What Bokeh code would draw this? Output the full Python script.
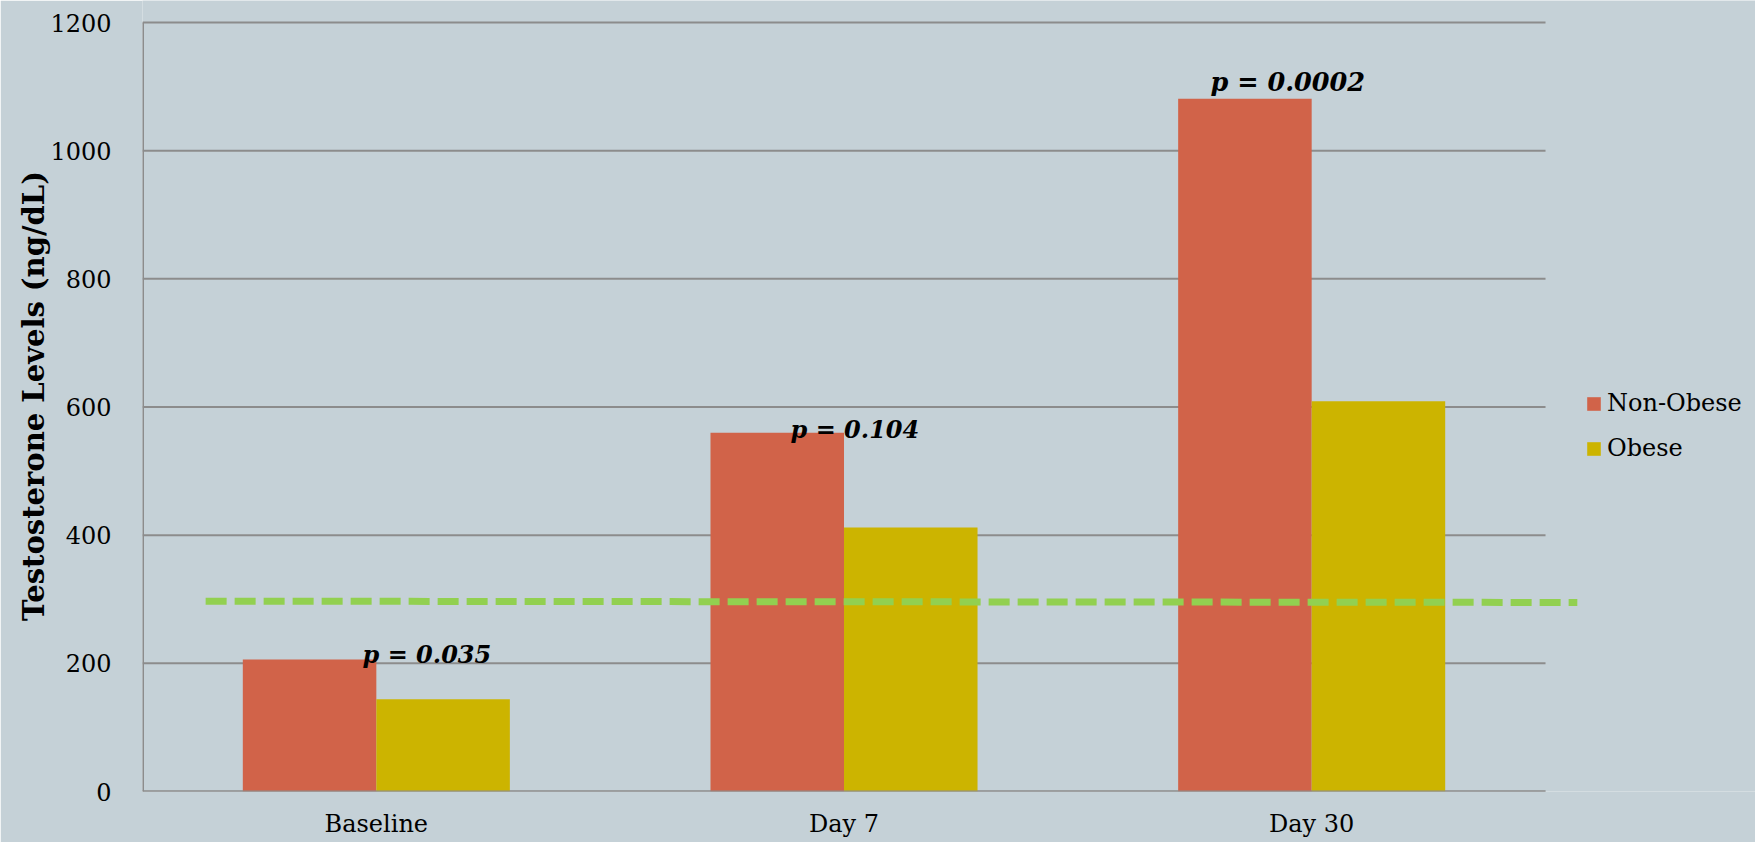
from bokeh.plotting import figure
from bokeh.models import Range1d, FixedTicker, Legend, LegendItem, ColumnDataSource
from bokeh.core.properties import value
from bokeh.embed import file_html
from bokeh.resources import INLINE

# ---- data ----
categories = ["Baseline", "Day 7", "Day 30"]
non_obese = [206, 560, 1081]
obese = [144, 412, 609]
p_labels = ["p = 0.035", "p = 0.104", "p = 0.0002"]
y_ticks = [0, 200, 400, 600, 800, 1000, 1200]
threshold_x = [0.135, 3.068]
threshold_y = [297, 295]

# ---- layout / style (not data) ----
BG = "#C5D1D7"
RED = "#D16349"
YEL = "#CCB400"
GRID = "#8C8C8C"
FONT = "DejaVu Serif"
bar_w = 0.2855
label_dx = [-0.0296, -0.1144, -0.2163]
label_y = [214, 565, 1107]
label_size = ["24px", "24px", "25.5px"]

n = len(categories)
centers = [i + 0.5 for i in range(n)]

# frame spans the full top of the figure; 1200 sits 22px below it
p = figure(width=1755, height=842, output_backend="svg", toolbar_location=None,
           x_range=Range1d(0, 3.449), y_range=Range1d(0, 1234.35),
           min_border_left=142, min_border_right=0, min_border_top=0, min_border_bottom=51)
p.background_fill_color = BG
p.border_fill_color = BG
p.outline_line_color = None
p.xgrid.visible = False
p.ygrid.visible = False

# gridlines limited to category span
gsrc = ColumnDataSource(dict(x0=[0] * len(y_ticks), x1=[n] * len(y_ticks), y=y_ticks))
p.segment(x0="x0", x1="x1", y0="y", y1="y", source=gsrc, line_color=GRID, line_width=2)

src = ColumnDataSource(dict(
    x_no=[c - bar_w / 2 for c in centers],
    x_ob=[c + bar_w / 2 for c in centers],
    no=non_obese, ob=obese))
r1 = p.vbar(x="x_no", top="no", width=bar_w, source=src, fill_color=RED, line_color=None)
r2 = p.vbar(x="x_ob", top="ob", width=bar_w, source=src, fill_color=YEL, line_color=None)

p.line(x=threshold_x, y=threshold_y, line_color="#92D050", line_width=7, line_dash="21 8")

lsrc = ColumnDataSource(dict(x=[c + d for c, d in zip(centers, label_dx)], y=label_y,
                             t=p_labels, s=label_size))
p.text(x="x", y="y", text="t", source=lsrc, text_font=value(FONT), text_font_style="bold italic",
       text_font_size="s", text_color="black", text_align="left", text_baseline="alphabetic")

# axes
p.yaxis.ticker = FixedTicker(ticks=y_ticks)
p.yaxis.axis_line_color = None
p.yaxis.major_tick_line_color = None
p.yaxis.minor_tick_line_color = None
p.yaxis.major_label_standoff = 25
p.yaxis.major_label_text_font = FONT
p.yaxis.major_label_text_font_size = "24px"
p.yaxis.major_label_text_color = "black"
p.yaxis.axis_label = "Testosterone Levels (ng/dL)"
p.yaxis.axis_label_text_font = FONT
p.yaxis.axis_label_text_font_size = "29px"
p.yaxis.axis_label_text_font_style = "bold"
p.yaxis.axis_label_text_color = "black"
p.yaxis.axis_label_standoff = -4

p.xaxis.ticker = FixedTicker(ticks=centers)
p.xaxis.major_label_overrides = {c: name for c, name in zip(centers, categories)}
p.xaxis.axis_line_color = None
p.xaxis.major_tick_line_color = None
p.xaxis.minor_tick_line_color = None
p.xaxis.major_label_standoff = 12
p.xaxis.major_label_text_font = FONT
p.xaxis.major_label_text_font_size = "24px"
p.xaxis.major_label_text_color = "black"
# spines over the value span / category span
p.segment(x0=[0], x1=[n], y0=[0], y1=[0], line_color=GRID, line_width=2)
p.segment(x0=[0], x1=[0], y0=[y_ticks[0]], y1=[y_ticks[-1]], line_color=GRID, line_width=3)

legend = Legend(items=[LegendItem(label="Non-Obese", renderers=[r1]),
                       LegendItem(label="Obese", renderers=[r2])],
                location=(1443, 329))
legend.background_fill_alpha = 0
legend.border_line_color = None
legend.padding = 0
legend.margin = 0
legend.glyph_width = 17
legend.glyph_height = 17
legend.label_standoff = 5
legend.spacing = 17
legend.label_text_font = FONT
legend.label_text_font_size = "24px"
legend.label_text_color = "black"
p.add_layout(legend)

open("out.html", "w").write(file_html(p, INLINE))
